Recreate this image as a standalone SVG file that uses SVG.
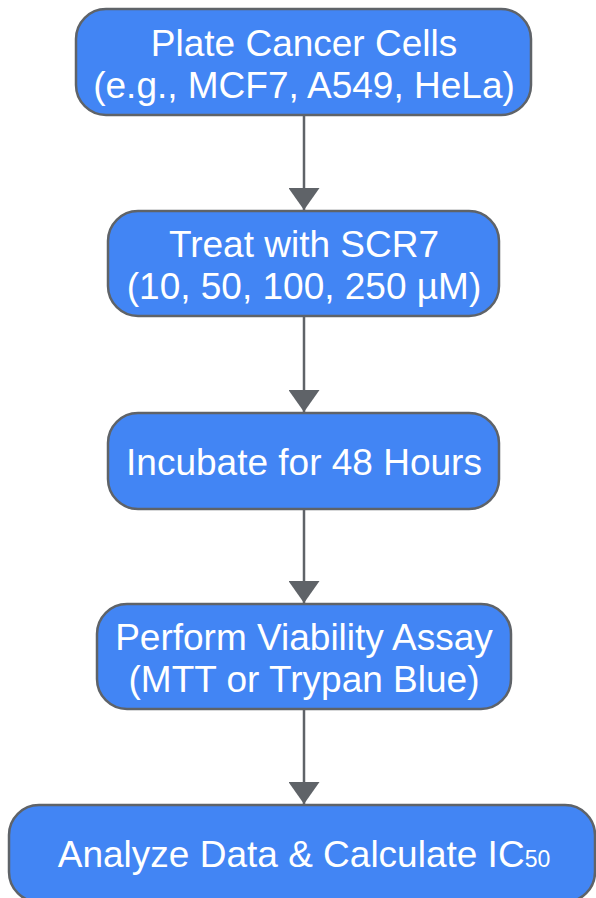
<svg xmlns="http://www.w3.org/2000/svg" width="596" height="898" viewBox="0 0 596 898">
<style>
.box{fill:#4285F4;stroke:#5F6368;stroke-width:2.5}
.t{font-family:"Liberation Sans",Arial,sans-serif;font-size:37px;fill:#FFFFFF;text-anchor:middle}
.c{stroke:#5F6368;stroke-width:2.5;fill:none}
</style>
<defs>
<marker id="ah" viewBox="0 0 22 31" refX="22" refY="15.5" markerWidth="22" markerHeight="31" markerUnits="userSpaceOnUse" orient="auto">
<path d="M0,0 L22,15.5 L0,31 Z" fill="#5F6368"/>
</marker>
</defs>
<rect width="596" height="898" fill="#FFFFFF"/>
<g id="connectors">
<line class="c" x1="304" y1="115" x2="304" y2="210" marker-end="url(#ah)"/>
<line class="c" x1="304" y1="316" x2="304" y2="412" marker-end="url(#ah)"/>
<line class="c" x1="304" y1="509" x2="304" y2="603" marker-end="url(#ah)"/>
<line class="c" x1="304" y1="709" x2="304" y2="804" marker-end="url(#ah)"/>
</g>
<g id="plate">
<rect class="box" x="76" y="9" width="455" height="106" rx="30"/>
<text class="t" x="304" y="56">Plate Cancer Cells</text>
<text class="t" x="304" y="98">(e.g., MCF7, A549, HeLa)</text>
</g>
<g id="treat">
<rect class="box" x="108" y="211" width="391" height="105" rx="30"/>
<text class="t" x="304" y="257">Treat with SCR7</text>
<text class="t" x="304" y="299">(10, 50, 100, 250 µM)</text>
</g>
<g id="incubate">
<rect class="box" x="108" y="413" width="391" height="96" rx="30"/>
<text class="t" x="304" y="475">Incubate for 48 Hours</text>
</g>
<g id="assay">
<rect class="box" x="97" y="604" width="414" height="105" rx="30"/>
<text class="t" x="304" y="650">Perform Viability Assay</text>
<text class="t" x="304" y="692">(MTT or Trypan Blue)</text>
</g>
<g id="analyze">
<rect class="box" x="9" y="805" width="586" height="97" rx="30"/>
<text class="t" x="304" y="867">Analyze Data &amp; Calculate IC<tspan font-size="23">50</tspan></text>
</g>
</svg>
